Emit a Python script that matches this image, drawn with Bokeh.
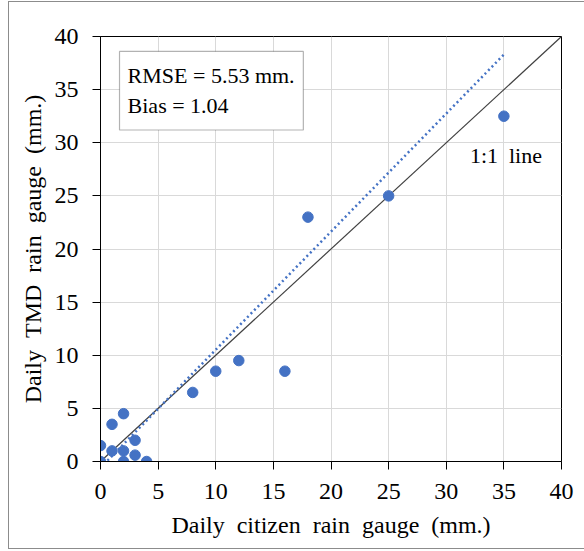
from bokeh.plotting import figure
from bokeh.models import Range1d, Label, BoxAnnotation, SingleIntervalTicker
from bokeh.embed import file_html
from bokeh.resources import INLINE

# Data
citizen = [0, 0, 1, 1, 2, 2, 2, 3, 3, 4, 8, 10, 12, 16, 18, 25, 35]
tmd = [0, 1.5, 3.5, 1, 4.5, 1, 0, 2, 0.6, 0, 6.5, 8.5, 9.5, 8.5, 23, 25, 32.5]
one_to_one_x = [0, 40]
one_to_one_y = [0, 40]
trend_x = [0, 35]
trend_y = [-0.59, 38.3]
stats_lines = ["RMSE = 5.53 mm.", "Bias = 1.04"]

FONT = "Liberation Serif"
SP = " \u00a0"

p = figure(width=576, height=546, output_backend="svg", toolbar_location=None,
           x_range=Range1d(0, 40), y_range=Range1d(0, 40),
           frame_width=461, frame_height=425,
           min_border_left=91, min_border_right=24, min_border_top=34, min_border_bottom=87)
p.margin = (1, 0, 0, 8)
p.styles = {"border": "1px solid #8c8c8c"}

p.outline_line_color = "black"
p.outline_line_width = 1
p.background_fill_color = "white"
p.border_fill_color = "white"

for ax in (p.xaxis[0], p.yaxis[0]):
    ax.ticker = SingleIntervalTicker(interval=5)
    ax.axis_line_color = "black"
    ax.major_tick_line_color = "black"
    ax.major_tick_out = 8
    ax.major_tick_in = 0
    ax.minor_tick_line_color = None
    ax.major_label_text_font = FONT
    ax.major_label_text_font_size = "24px"
    ax.major_label_text_color = "black"
    ax.axis_label_text_font = FONT
    ax.axis_label_text_font_size = "24px"
    ax.axis_label_text_font_style = "normal"
    ax.axis_label_text_color = "black"

p.xaxis.axis_label = SP.join(["Daily", "citizen", "rain", "gauge", "(mm.)"])
p.yaxis.axis_label = SP.join(["Daily", "TMD", "rain", "gauge", "(mm.)"])
p.xaxis.major_label_standoff = 14
p.yaxis.major_label_standoff = 14
p.xaxis.axis_label_standoff = 10
p.yaxis.axis_label_standoff = 6

p.grid.grid_line_color = "#d9d9d9"
p.grid.grid_line_width = 1

p.line(one_to_one_x, one_to_one_y, line_color="#404040", line_width=1.2)
p.line(trend_x, trend_y, line_color="#4472C4", line_width=2.5, line_dash="2 3")
p.scatter(citizen, tmd, size=10.5, fill_color="#4472C4", line_color="#4472C4")

box = BoxAnnotation(left=1.65, right=17.6, top=38.6, bottom=31.2,
                    fill_color="white", fill_alpha=1.0,
                    line_color="black", line_width=1.2)
p.add_layout(box)

for txt, yy in zip(stats_lines, [36.3, 33.5]):
    p.add_layout(Label(x=2.35, y=yy, text=txt, text_font=FONT, text_font_size="22px",
                       text_baseline="middle", text_color="black"))

p.add_layout(Label(x=32.05, y=28.8, text="1:1" + SP + "line", text_font=FONT, text_font_size="22px",
                   text_baseline="middle", text_color="black"))

open("out.html", "w").write(file_html(p, INLINE))
